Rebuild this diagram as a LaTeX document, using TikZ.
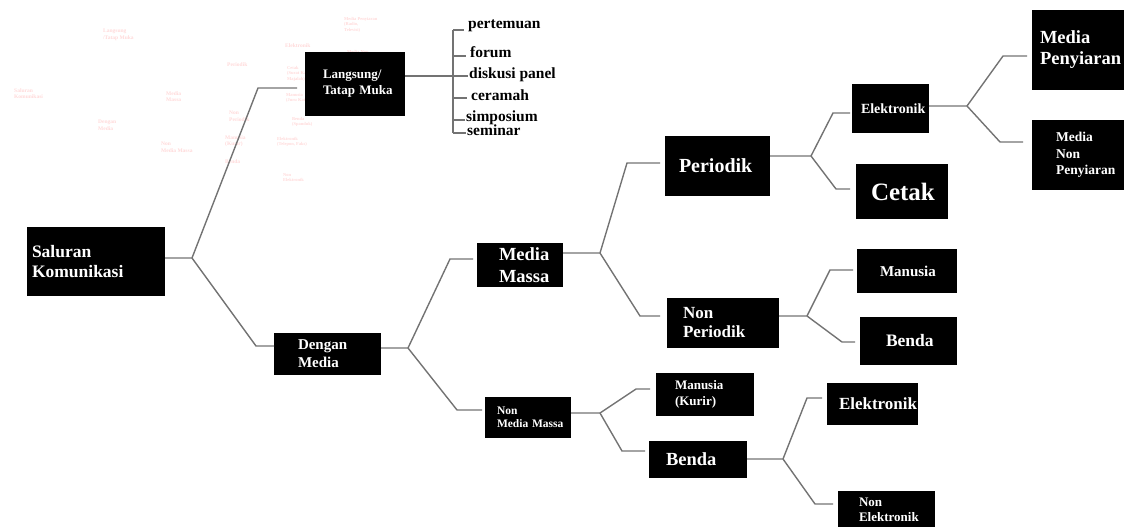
\documentclass[tikz,border=0pt]{standalone}
\usepackage{fontspec}
\setmainfont{Liberation Serif}
\hyphenpenalty=10000
\usetikzlibrary{calc}

\tikzset{
    box/.style={fill=black, text=white, anchor=north west, align=left, inner ysep=0pt, outer sep=0pt},
    link/.style={draw=black!55, line width=1.4pt},
    item/.style={anchor=base west, inner sep=0pt, font=\fontsize{15.5}{18}\selectfont\bfseries},
    ghost/.style={text=red!15, anchor=north west, inner sep=0pt, align=left, font=\fontsize{5.5}{6.5}\selectfont\bfseries},
    ghostsmall/.style={ghost, font=\fontsize{4.5}{5.5}\selectfont\bfseries},
}

\begin{document}
\begin{tikzpicture}[x=1pt, y=-1pt]
\useasboundingbox (0,0) rectangle (1124,527);

    % faint copy of the tree in the top left corner
    \node[ghost] (g1) at (103,29) {Langsung\\/Tatap Muka};
    \node[ghost] (g2) at (14,88) {Saluran\\Komunikasi};
    \node[ghost] (g3) at (98,120) {Dengan\\Media};
    \node[ghost] (g4) at (166,91) {Media\\Massa};
    \node[ghost] (g5) at (161,142) {Non\\Media Massa};
    \node[ghost] (g6) at (227,62) {Periodik};
    \node[ghost] (g7) at (229,111) {Non\\Periodik};
    \node[ghost] (g8) at (225,135) {Manusia\\(Kurir)};
    \node[ghost] (g9) at (225,159) {Benda};
    \node[ghost] (g10) at (285,43) {Elektronik};
    \node[ghostsmall] (g11) at (287,66) {Cetak\\(Surat Kabar,\\Majalah)};
    \node[ghostsmall] (g12) at (286,93) {Manusia\\(Juru Kata)};
    \node[ghostsmall] (g13) at (292,117) {Benda\\(Spanduk)};
    \node[ghostsmall] (g14) at (277,137) {Elektronik\\(Telepon, Faks)};
    \node[ghostsmall] (g15) at (283,173) {Non\\Elektronik};
    \node[ghostsmall] (g16) at (344,17) {Media Penyiaran\\(Radio,\\Televisi)};
    \node[ghostsmall] (g17) at (347,50) {Media Non\\Penyiaran};

    % boxes
    \node[box, minimum height=69, inner xsep=5, text width=128, font=\fontsize{17.5}{20}\selectfont\bfseries] (sal) at (27,227) {Saluran\\Komunikasi};
    \node[box, minimum height=64, inner xsep=18, text width=64, font=\fontsize{13}{16}\selectfont\bfseries] (lang) at (305,52) {Langsung/\\Tatap~Muka};
    \node[box, minimum height=42, inner xsep=24, text width=59, font=\fontsize{15}{18}\selectfont\bfseries] (deng) at (274,333) {Dengan\\Media};
    \node[box, minimum height=44, inner xsep=22, text width=42, font=\fontsize{18.5}{22}\selectfont\bfseries] (mm) at (477,243) {Media\\Massa};
    \node[box, minimum height=41, inner xsep=12, text width=62, font=\fontsize{11.5}{13.5}\selectfont\bfseries] (nmm) at (485,397) {Non\\Media~Massa};
    \node[box, minimum height=60, inner xsep=14, text width=77, font=\fontsize{20}{24}\selectfont\bfseries] (per) at (665,136) {Periodik};
    \node[box, minimum height=55, inner xsep=15, text width=62, font=\fontsize{25}{30}\selectfont\bfseries] (cet) at (856,164) {Cetak};
    \node[box, minimum height=49, inner xsep=9, text width=59, font=\fontsize{14}{17}\selectfont\bfseries] (el1) at (852,84) {Elektronik};
    \node[box, minimum height=80, inner xsep=8, text width=84, font=\fontsize{18.5}{21}\selectfont\bfseries] (mp) at (1032,10) {Media\\Penyiaran};
    \node[box, minimum height=70, inner xsep=24, text width=52, font=\fontsize{13.5}{16.7}\selectfont\bfseries] (mnp) at (1032,120) {Media\\Non\\Penyiaran};
    \node[box, minimum height=44, inner xsep=23, text width=54, font=\fontsize{15}{18}\selectfont\bfseries] (man) at (857,249) {Manusia};
    \node[box, minimum height=50, inner xsep=16, text width=80, font=\fontsize{17}{19}\selectfont\bfseries] (np) at (667,298) {Non\\Periodik};
    \node[box, minimum height=48, inner xsep=26, text width=45, font=\fontsize{17.5}{21}\selectfont\bfseries] (ben1) at (860,317) {Benda};
    \node[box, minimum height=43, inner xsep=19, text width=60, font=\fontsize{13}{16.5}\selectfont\bfseries] (mk) at (656,373) {Manusia\\(Kurir)};
    \node[box, minimum height=42, inner xsep=12, text width=67, font=\fontsize{17}{20}\selectfont\bfseries] (el2) at (827,383) {Elektronik};
    \node[box, minimum height=37, inner xsep=17, text width=64, font=\fontsize{18.5}{22}\selectfont\bfseries] (ben2) at (649,441) {Benda};
    \node[box, minimum height=38, inner xsep=21, text width=55, font=\fontsize{13}{15}\selectfont\bfseries] (nel) at (838,491) {Non\\Elektronik};

    % list of the direct channels
    \node[item] (pert) at (468,29) {pertemuan};
    \node[item] (forum) at (470,58) {forum};
    \node[item] (disk) at (469,78) {diskusi panel};
    \node[item] (cer) at (471,100) {ceramah};
    \node[item] (simp) at (466,121) {simposium};
    \node[item] (sem) at (467,135) {seminar};

    % junctions and elbows
    \coordinate (j1) at (192,258);  \coordinate (e1a) at (258,88);   \coordinate (e1b) at (256,346);
    \coordinate (j2) at (408,348);  \coordinate (e2a) at (450,259);  \coordinate (e2b) at (457,410);
    \coordinate (j3) at (600,253);  \coordinate (e3a) at (627,163);  \coordinate (e3b) at (640,316);
    \coordinate (j4) at (811,156);  \coordinate (e4a) at (833,113);  \coordinate (e4b) at (836,189);
    \coordinate (j5) at (967,106);  \coordinate (e5a) at (1003,56);  \coordinate (e5b) at (1000,142);
    \coordinate (j6) at (807,316);  \coordinate (e6a) at (830,270);  \coordinate (e6b) at (842,342);
    \coordinate (j7) at (600,413);  \coordinate (e7a) at (636,389);  \coordinate (e7b) at (622,451);
    \coordinate (j8) at (783,459);  \coordinate (e8a) at (807,398);  \coordinate (e8b) at (815,504);

    \draw[link] (sal.east |- j1) -- (j1) -- (e1a) -- ($(lang.west |- e1a)+(-8,0)$);
    \draw[link] (j1) -- (e1b) -- (deng.west |- e1b);

    \draw[link] (deng.east |- j2) -- (j2) -- (e2a) -- ($(mm.west |- e2a)+(-4,0)$);
    \draw[link] (j2) -- (e2b) -- ($(nmm.west |- e2b)+(-3,0)$);

    \draw[link] (mm.east |- j3) -- (j3) -- (e3a) -- ($(per.west |- e3a)+(-5,0)$);
    \draw[link] (j3) -- (e3b) -- ($(np.west |- e3b)+(-7,0)$);

    \draw[link] (per.east |- j4) -- (j4) -- (e4a) -- ($(el1.west |- e4a)+(-2,0)$);
    \draw[link] (j4) -- (e4b) -- ($(cet.west |- e4b)+(-6,0)$);

    \draw[link] (el1.east |- j5) -- (j5) -- (e5a) -- ($(mp.west |- e5a)+(-5,0)$);
    \draw[link] (j5) -- (e5b) -- ($(mnp.west |- e5b)+(-9,0)$);

    \draw[link] (np.east |- j6) -- (j6) -- (e6a) -- ($(man.west |- e6a)+(-4,0)$);
    \draw[link] (j6) -- (e6b) -- ($(ben1.west |- e6b)+(-5,0)$);

    \draw[link] (nmm.east |- j7) -- (j7) -- (e7a) -- ($(mk.west |- e7a)+(-6,0)$);
    \draw[link] (j7) -- (e7b) -- ($(ben2.west |- e7b)+(-4,0)$);

    \draw[link] (ben2.east |- j8) -- (j8) -- (e8a) -- ($(el2.west |- e8a)+(-5,0)$);
    \draw[link] (j8) -- (e8b) -- ($(nel.west |- e8b)+(-5,0)$);

    % bracket of the list
    \coordinate (t1) at (453,30);  \coordinate (t2) at (453,56);  \coordinate (t3) at (453,76);
    \coordinate (t4) at (453,98);  \coordinate (t5) at (453,120); \coordinate (t6) at (453,133);
    \draw[link] (lang.east |- t3) -- (t3);
    \draw[link] (t1) -- (t6);
    \draw[link] (t1) -- ($(t1 -| pert.west)+(-4,0)$);
    \draw[link] (t2) -- ($(t2 -| forum.west)+(-4,0)$);
    \draw[link] (t3) -- ($(t3 -| disk.west)+(-1,0)$);
    \draw[link] (t4) -- ($(t4 -| cer.west)+(-4,0)$);
    \draw[link] (t5) -- ($(t5 -| simp.west)+(-1,0)$);
    \draw[link] (t6) -- ($(t6 -| sem.west)+(-1,0)$);

\end{tikzpicture}
\end{document}
